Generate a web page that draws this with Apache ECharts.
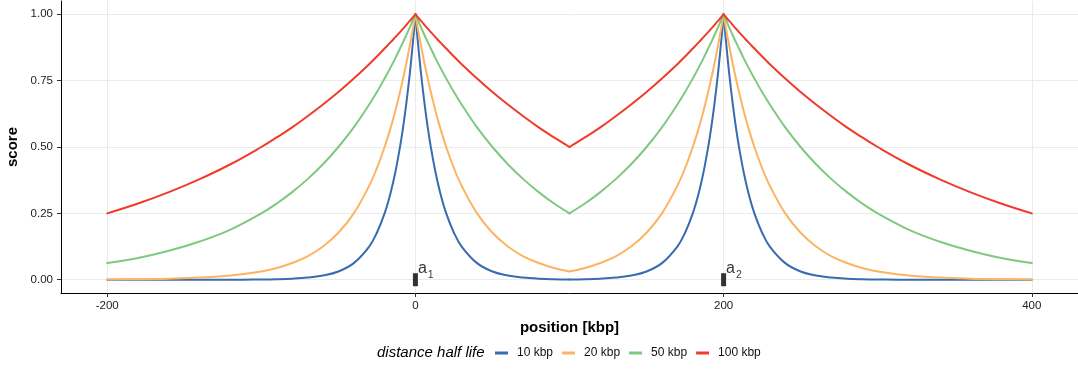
<!DOCTYPE html>
<html><head><meta charset="utf-8">
<script src="https://cdn.jsdelivr.net/npm/echarts@6/dist/echarts.min.js"></script>
<style>html,body{margin:0;padding:0;background:#fff}#c{width:1078px;height:369px}</style>
</head><body><div id="c"></div>
<script>
const positions = [-200,-180,-160,-140,-120,-100,-90,-80,-70,-60,-50,-40,-30,-25,-20,-16,-13,-10,-8,-6,-4,-3,-2,-1,
  0,
  1,2,3,4,6,8,10,13,16,20,25,30,40,50,60,70,80,90,
  100,
  110,120,130,140,150,160,170,175,180,184,187,190,192,194,196,197,198,199,
  200,
  201,202,203,204,206,208,210,213,216,220,225,230,240,250,260,270,280,290,300,320,340,360,380,400];

const score10 = [0,0,0,0,0,0.001,0.002,0.004,0.008,0.016,0.031,0.0625,0.125,0.177,0.25,0.330,0.406,0.5,0.574,0.660,0.758,0.812,0.871,0.933,
  1,
  0.933,0.871,0.812,0.758,0.660,0.574,0.5,0.406,0.330,0.25,0.177,0.125,0.0625,0.031,0.016,0.008,0.004,0.002,
  0.001,
  0.002,0.004,0.008,0.016,0.031,0.0625,0.125,0.177,0.25,0.330,0.406,0.5,0.574,0.660,0.758,0.812,0.871,0.933,
  1,
  0.933,0.871,0.812,0.758,0.660,0.574,0.5,0.406,0.330,0.25,0.177,0.125,0.0625,0.031,0.016,0.008,0.004,0.002,0.001,0,0,0,0,0];

const score20 = [0.001,0.002,0.004,0.008,0.016,0.031,0.044,0.063,0.088,0.125,0.177,0.25,0.354,0.420,0.5,0.574,0.637,0.707,0.758,0.812,0.871,0.901,0.933,0.966,
  1,
  0.966,0.933,0.901,0.871,0.812,0.758,0.707,0.637,0.574,0.5,0.420,0.354,0.25,0.177,0.125,0.088,0.063,0.044,
  0.031,
  0.044,0.063,0.088,0.125,0.177,0.25,0.354,0.420,0.5,0.574,0.637,0.707,0.758,0.812,0.871,0.901,0.933,0.966,
  1,
  0.966,0.933,0.901,0.871,0.812,0.758,0.707,0.637,0.574,0.5,0.420,0.354,0.25,0.177,0.125,0.088,0.063,0.044,0.031,0.016,0.008,0.004,0.002,0.001];

const score50 = [0.063,0.082,0.109,0.144,0.189,0.25,0.287,0.330,0.379,0.435,0.5,0.574,0.660,0.707,0.758,0.801,0.835,0.871,0.895,0.920,0.946,0.959,0.973,0.986,
  1,
  0.986,0.973,0.959,0.946,0.920,0.895,0.871,0.835,0.801,0.758,0.707,0.660,0.574,0.5,0.435,0.379,0.330,0.287,
  0.25,
  0.287,0.330,0.379,0.435,0.5,0.574,0.660,0.707,0.758,0.801,0.835,0.871,0.895,0.920,0.946,0.959,0.973,0.986,
  1,
  0.986,0.973,0.959,0.946,0.920,0.895,0.871,0.835,0.801,0.758,0.707,0.660,0.574,0.5,0.435,0.379,0.330,0.287,0.25,0.189,0.144,0.109,0.082,0.063];

const score100 = [0.25,0.287,0.330,0.379,0.435,0.5,0.536,0.574,0.616,0.660,0.707,0.758,0.812,0.841,0.871,0.895,0.914,0.933,0.946,0.959,0.973,0.979,0.986,0.993,
  1,
  0.993,0.986,0.979,0.973,0.959,0.946,0.933,0.914,0.895,0.871,0.841,0.812,0.758,0.707,0.660,0.616,0.574,0.536,
  0.5,
  0.536,0.574,0.616,0.660,0.707,0.758,0.812,0.841,0.871,0.895,0.914,0.933,0.946,0.959,0.973,0.979,0.986,0.993,
  1,
  0.993,0.986,0.979,0.973,0.959,0.946,0.933,0.914,0.895,0.871,0.841,0.812,0.758,0.707,0.660,0.616,0.574,0.536,0.5,0.435,0.379,0.330,0.287,0.25];

const seriesNames = ['10 kbp','20 kbp','50 kbp','100 kbp'];
const anchorPositions = [0, 200];
const anchorNames = ['1', '2'];
const xTicks = [-200, 0, 200, 400];
const yTicks = [0, 0.25, 0.5, 0.75, 1];

const colors = ['#386CB0', '#FDB462', '#7FC97F', '#F03B2B'];
const allScores = [score10, score20, score50, score100];
const FONT = '"Liberation Sans", Arial, sans-serif';

// split each curve at the cusps (anchors and midpoint) so smoothing keeps them sharp
const cusps = [-200, 0, 100, 200, 400].map(v => positions.indexOf(v));
const lineSeries = [];
seriesNames.forEach((n, i) => {
  for (let k = 0; k < cusps.length - 1; k++) {
    const pts = [];
    for (let j = cusps[k]; j <= cusps[k + 1]; j++) pts.push([positions[j], allScores[i][j]]);
    lineSeries.push({
      name: n, type: 'line', showSymbol: false, symbol: 'none', smooth: 0.4,
      data: pts,
      lineStyle: { color: colors[i], width: 2, cap: 'round', join: 'round' }, itemStyle: { color: colors[i] },
      z: 3 + i, animation: false
    });
  }
});

const chart = echarts.init(document.getElementById('c'), null, { renderer: 'canvas' });
chart.setOption({
  animation: false,
  textStyle: { fontFamily: FONT },
  grid: { left: 61, right: 0, top: 1, bottom: 76, containLabel: false, outerBoundsMode: 'none' },
  xAxis: {
    type: 'value', min: -230, max: 430,
    name: 'position [kbp]', nameLocation: 'middle', nameGap: 27,
    nameTextStyle: { fontSize: 15, fontWeight: 'bold', color: '#000', fontFamily: FONT },
    axisLine: { show: true, onZero: false, lineStyle: { color: '#000', width: 1 } },
    axisTick: { show: true, length: 4, lineStyle: { color: '#333' }, customValues: xTicks },
    axisLabel: { color: '#222', fontSize: 11.5, margin: 7, customValues: xTicks, fontFamily: FONT },
    splitLine: { show: true, lineStyle: { color: '#EBEBEB', width: 1 }, customValues: xTicks }
  },
  yAxis: {
    type: 'value', min: -0.05, max: 1.05,
    name: 'score', nameLocation: 'middle', nameGap: 41, nameRotate: 90, nameMoveOverlap: false,
    nameTextStyle: { fontSize: 15, fontWeight: 'bold', color: '#000', fontFamily: FONT },
    axisLine: { show: true, onZero: false, lineStyle: { color: '#000', width: 1 } },
    axisTick: { show: true, length: 4, lineStyle: { color: '#333' }, customValues: yTicks },
    axisLabel: { color: '#222', fontSize: 11.5, margin: 8, customValues: yTicks, fontFamily: FONT,
      formatter: v => v.toFixed(2) },
    splitLine: { show: true, lineStyle: { color: '#EBEBEB', width: 1 }, customValues: yTicks }
  },
  legend: {
    left: 495, top: 347, padding: 0, itemWidth: 13, itemHeight: 3, itemGap: 9, icon: 'rect',
    data: seriesNames,
    textStyle: { fontSize: 12, color: '#111', fontFamily: FONT, padding: [0, 0, 0, 4] }
  },
  title: {
    text: 'distance half life', left: 377, top: 345, padding: 0,
    textStyle: { fontSize: 15, fontStyle: 'italic', fontWeight: 'normal', color: '#000', fontFamily: FONT }
  },
  series: lineSeries.concat([{
    name: 'anchors', type: 'scatter', symbol: 'rect', symbolSize: [5, 13],
    data: anchorPositions.map((p, i) => ({ value: [p, 0], label: { formatter: '{a|a}{s|' + anchorNames[i] + '}' } })),
    itemStyle: { color: '#000' }, z: 10, silent: true,
    label: {
      show: true, position: 'right', distance: 0, offset: [0, -12],
      rich: {
        a: { fontSize: 16, color: '#000', fontFamily: FONT, lineHeight: 18, verticalAlign: 'bottom' },
        s: { fontSize: 10.5, color: '#000', fontFamily: FONT, lineHeight: 18, verticalAlign: 'bottom', padding: [0, 0, -4, 1] }
      }
    }
  }])
});
</script></body></html>
